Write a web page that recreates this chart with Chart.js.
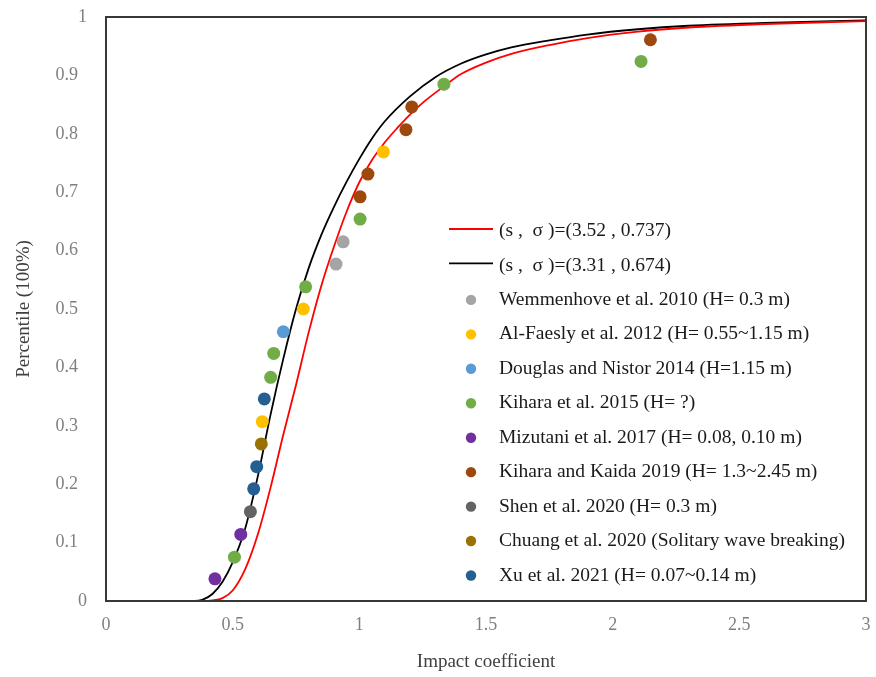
<!DOCTYPE html>
<html><head><meta charset="utf-8">
<script src="https://cdn.jsdelivr.net/npm/chart.js@4.4.1/dist/chart.umd.min.js"></script>
<style>html,body{margin:0;padding:0;background:#fff;} #wrap{width:876px;height:677px;}</style>
</head><body><div id="wrap"><canvas id="c" width="876" height="677"></canvas></div>
<script>
// ---- tick values ----
const xTickValues = [0, 0.5, 1, 1.5, 2, 2.5, 3];
const yTickValues = [0, 0.1, 0.2, 0.3, 0.4, 0.5, 0.6, 0.7, 0.8, 0.9, 1];

// ---- fitted curves ----
const redCurveLabel = '(s ,  \u03C3 )=(3.52 , 0.737)';
const redCurveX = [0, 0.30, 0.38, 0.42, 0.46, 0.50, 0.55, 0.60, 0.65, 0.70, 0.75, 0.80, 0.85, 0.90, 0.95, 1.00, 1.05, 1.10, 1.15, 1.20, 1.25, 1.33, 1.40, 1.50, 1.60, 1.75, 1.90, 2.10, 2.30, 2.60, 3.00];
const redCurveY = [0, 0, 0, 0.001, 0.005, 0.018, 0.055, 0.115, 0.195, 0.285, 0.37, 0.46, 0.54, 0.607, 0.667, 0.717, 0.755, 0.785, 0.81, 0.833, 0.853, 0.88, 0.902, 0.922, 0.937, 0.952, 0.964, 0.975, 0.982, 0.988, 0.993];

const blackCurveLabel = '(s ,  \u03C3 )=(3.31 , 0.674)';
const blackCurveX = [0, 0.30, 0.35, 0.38, 0.42, 0.46, 0.50, 0.55, 0.60, 0.65, 0.70, 0.75, 0.80, 0.85, 0.90, 0.95, 1.00, 1.05, 1.10, 1.20, 1.30, 1.40, 1.50, 1.60, 1.75, 1.90, 2.10, 2.30, 2.60, 3.00];
const blackCurveY = [0, 0, 0, 0.002, 0.012, 0.033, 0.066, 0.125, 0.215, 0.32, 0.415, 0.50, 0.57, 0.627, 0.675, 0.718, 0.757, 0.792, 0.821, 0.864, 0.897, 0.92, 0.936, 0.948, 0.96, 0.97, 0.979, 0.985, 0.99, 0.994];

// ---- experimental data ----
const wemmenhoveLabel = 'Wemmenhove et al. 2010 (H= 0.3 m)';
const wemmenhoveX = [0.908, 0.936];
const wemmenhoveY = [0.577, 0.615];

const alFaeslyLabel = 'Al-Faesly et al. 2012 (H= 0.55~1.15 m)';
const alFaeslyX = [0.617, 0.779, 1.095];
const alFaeslyY = [0.307, 0.500, 0.769];

const douglasLabel = 'Douglas and Nistor 2014 (H=1.15 m)';
const douglasX = [0.700];
const douglasY = [0.461];

const kihara2015Label = 'Kihara et al. 2015 (H= ?)';
const kihara2015X = [0.507, 0.650, 0.662, 0.788, 1.003, 1.334, 2.112];
const kihara2015Y = [0.075, 0.383, 0.424, 0.538, 0.654, 0.885, 0.924];

const mizutaniLabel = 'Mizutani et al. 2017 (H= 0.08, 0.10 m)';
const mizutaniX = [0.430, 0.532];
const mizutaniY = [0.038, 0.114];

const kiharaKaidaLabel = 'Kihara and Kaida 2019 (H= 1.3~2.45 m)';
const kiharaKaidaX = [1.003, 1.034, 1.184, 1.207, 2.149];
const kiharaKaidaY = [0.692, 0.731, 0.807, 0.846, 0.961];

const shenLabel = 'Shen et al. 2020 (H= 0.3 m)';
const shenX = [0.570];
const shenY = [0.153];

const chuangLabel = 'Chuang et al. 2020 (Solitary wave breaking)';
const chuangX = [0.613];
const chuangY = [0.269];

const xuLabel = 'Xu et al. 2021 (H= 0.07~0.14 m)';
const xuX = [0.583, 0.595, 0.625];
const xuY = [0.192, 0.230, 0.346];

// ---- build ----
const toXY = (xs, ys) => xs.map((x, i) => ({x, y: ys[i]}));
const FONT = '"Liberation Serif", "DejaVu Serif", serif';

function scatterDs(label, xs, ys, color) {
  return {type: 'scatter', label, data: toXY(xs, ys), backgroundColor: color, borderColor: color,
    pointRadius: 6.5, pointBorderWidth: 0, pointHoverRadius: 6.5, showLine: false, kind: 'point'};
}
function lineDs(label, xs, ys, color) {
  return {type: 'line', label, data: toXY(xs, ys), borderColor: color, backgroundColor: color,
    borderWidth: 1.8, pointRadius: 0, fill: false, cubicInterpolationMode: 'monotone', kind: 'line'};
}

const datasets = [
  scatterDs(wemmenhoveLabel, wemmenhoveX, wemmenhoveY, '#A5A5A5'),
  scatterDs(alFaeslyLabel, alFaeslyX, alFaeslyY, '#FFC000'),
  scatterDs(douglasLabel, douglasX, douglasY, '#5B9BD5'),
  scatterDs(kihara2015Label, kihara2015X, kihara2015Y, '#70AD47'),
  scatterDs(mizutaniLabel, mizutaniX, mizutaniY, '#7030A0'),
  scatterDs(kiharaKaidaLabel, kiharaKaidaX, kiharaKaidaY, '#9E480E'),
  scatterDs(shenLabel, shenX, shenY, '#636363'),
  scatterDs(chuangLabel, chuangX, chuangY, '#997300'),
  scatterDs(xuLabel, xuX, xuY, '#255E91'),
  lineDs(redCurveLabel, redCurveX, redCurveY, '#FF0000'),
  lineDs(blackCurveLabel, blackCurveX, blackCurveY, '#000000')
];
const legendOrder = [9, 10, 0, 1, 2, 3, 4, 5, 6, 7, 8];

const framePlugin = {
  id: 'frame',
  afterDatasetsDraw(chart) {
    const {ctx, chartArea: a} = chart;
    ctx.save();
    ctx.strokeStyle = '#383838';
    ctx.lineWidth = 2;
    ctx.strokeRect(a.left, a.top, a.right - a.left, a.bottom - a.top);
    ctx.restore();
  }
};

const legendPlugin = {
  id: 'insideLegend',
  afterDraw(chart) {
    const {ctx, chartArea: a} = chart;
    ctx.save();
    ctx.font = '19.5px ' + FONT;
    ctx.textBaseline = 'middle';
    ctx.textAlign = 'left';
    const x0 = a.left + 343;
    const y0 = 231;
    const step = 34.45;
    legendOrder.forEach((di, i) => {
      const ds = chart.data.datasets[di];
      const y = y0 + i * step;
      if (ds.kind === 'line') {
        ctx.strokeStyle = ds.borderColor;
        ctx.lineWidth = 1.8;
        ctx.beginPath();
        ctx.moveTo(x0, y - 2);
        ctx.lineTo(x0 + 44, y - 2);
        ctx.stroke();
      } else {
        ctx.fillStyle = ds.backgroundColor;
        ctx.beginPath();
        ctx.arc(x0 + 22, y, 5.2, 0, Math.PI * 2);
        ctx.fill();
      }
      ctx.fillStyle = '#1a1a1a';
      ctx.fillText(ds.label, x0 + 50, y);
    });
    ctx.restore();
  }
};

new Chart(document.getElementById('c'), {
  data: {datasets},
  options: {
    responsive: false,
    devicePixelRatio: 1,
    animation: false,
    layout: {padding: {top: 17, right: 10, left: 0, bottom: 0}},
    plugins: {legend: {display: false}, tooltip: {enabled: false}},
    scales: {
      x: {
        type: 'linear', min: 0, max: 3,
        afterBuildTicks: (s) => { s.ticks = xTickValues.map(v => ({value: v})); },
        afterFit: (s) => { s.height = 76; s.paddingLeft = 0; s.paddingRight = 0; },
        grid: {display: false, drawTicks: false},
        border: {display: false},
        ticks: {padding: 13, color: '#7f7f7f', font: {family: FONT, size: 18},
                callback: (v) => String(v)},
        title: {display: true, text: 'Impact coefficient', color: '#404040',
                font: {family: FONT, size: 19}, padding: {top: 0, bottom: 3.6}}
      },
      y: {
        type: 'linear', min: 0, max: 1,
        afterBuildTicks: (s) => { s.ticks = yTickValues.map(v => ({value: v})); },
        afterFit: (s) => { s.width = 106; s.paddingTop = 0; s.paddingBottom = 0; },
        grid: {display: false, drawTicks: false},
        border: {display: false},
        ticks: {padding: 19, color: '#7f7f7f', font: {family: FONT, size: 18},
                callback: (v) => (Number.isInteger(v) ? String(v) : String(v) + '\u2002')},
        title: {display: true, text: 'Percentile (100%)', color: '#404040',
                font: {family: FONT, size: 19}, padding: {top: 12.5, bottom: 0}}
      }
    }
  },
  plugins: [framePlugin, legendPlugin]
});
</script>
</body></html>
